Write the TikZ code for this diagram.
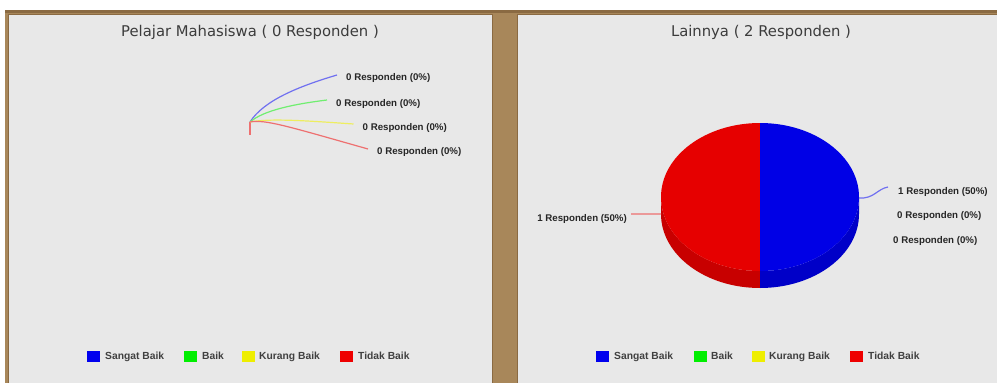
\documentclass[tikz,border=0pt]{standalone}
\usepackage{fontspec}
\setmainfont{DejaVu Sans}
\newfontfamily\labfont{Liberation Sans}
\definecolor{bgbrown}{HTML}{A8875A}
\definecolor{darkbrown}{HTML}{8A6A42}
\definecolor{panelgray}{HTML}{E8E8E8}
\definecolor{titlegray}{HTML}{3C3C3C}
\definecolor{labgray}{HTML}{262626}
\definecolor{leggray}{HTML}{404040}
\definecolor{cblue}{HTML}{0000EE}
\definecolor{cgreen}{HTML}{00EE00}
\definecolor{cyellow}{HTML}{EEEE00}
\definecolor{cred}{HTML}{EE0000}
\definecolor{pieredtop}{HTML}{E60000}
\definecolor{pieredside}{HTML}{C80000}
\definecolor{piebluetop}{HTML}{0000E6}
\definecolor{piebluside}{HTML}{0000C8}
\definecolor{lblue}{HTML}{7070F0}
\definecolor{lgreen}{HTML}{70EE70}
\definecolor{lyellow}{HTML}{EEEE60}
\definecolor{lred}{HTML}{EE7070}
\tikzset{
  panel/.style={fill=panelgray, draw=darkbrown, line width=1pt},
  charttitle/.style={font=\fontsize{14.8}{16}\selectfont, text=titlegray, inner sep=0pt},
  plabel/.style={font=\labfont\bfseries\fontsize{9.7}{11}\selectfont, text=labgray, inner sep=0pt, anchor=base west},
  legtext/.style={font=\labfont\bfseries\fontsize{10.3}{12}\selectfont, text=leggray, inner sep=0pt, anchor=base west},
  legbox/.style={minimum width=13pt, minimum height=11pt, inner sep=0pt},
  leader/.style={line width=1.2pt},
}
\begin{document}
\begin{tikzpicture}[x=1pt, y=-1pt]
\useasboundingbox (0,0) rectangle (997,383);
\fill[white] (0,0) rectangle (997,383);
% background
\fill[bgbrown] (5,10) rectangle (997,383);
\fill[darkbrown] (5,10) rectangle (997,13);
% panels
\path[panel] (8,14) rectangle (492,384);
\path[panel] (517,14) rectangle (998,384);

% ---------- left chart ----------
\node[charttitle] (t1) at (250,32) {Pelajar Mahasiswa ( 0 Responden )};
\coordinate (o1) at (250,122);
\coordinate (o1s) at (250,135);
\node[plabel] (l1a) at (346,80) {0 Responden (0\%)};
\node[plabel] (l1b) at (336,106) {0 Responden (0\%)};
\node[plabel] (l1c) at (362.5,130) {0 Responden (0\%)};
\node[plabel] (l1d) at (377,154) {0 Responden (0\%)};
\draw[leader, lred] (o1) -- (o1s);
\draw[leader, lblue] (o1) .. controls (264,100) and (300,86) .. ([xshift=-9pt, yshift=2.5pt]l1a.west);
\draw[leader, lgreen] (o1) .. controls (264,110) and (295,104) .. ([xshift=-9pt, yshift=3.5pt]l1b.west);
\draw[leader, lyellow] (o1) .. controls (270,118) and (310,121) .. ([xshift=-9pt, yshift=3.5pt]l1c.west);
\draw[leader, lred] (o1) .. controls (265,119) and (290,127) .. ([xshift=-9pt, yshift=2.5pt]l1d.west);

% legend left
\node[legbox, fill=cblue] (k1a) at (93,356) {};
\node[legtext] (k1at) at (105,359.7) {Sangat Baik};
\node[legbox, fill=cgreen] (k1b) at (190,356) {};
\node[legtext] (k1bt) at (202,359.7) {Baik};
\node[legbox, fill=cyellow] (k1c) at (248,356) {};
\node[legtext] (k1ct) at (259,359.7) {Kurang Baik};
\node[legbox, fill=cred] (k1d) at (346,356) {};
\node[legtext] (k1dt) at (358,359.7) {Tidak Baik};

% ---------- right chart ----------
\node[charttitle] (t2) at (761,32) {Lainnya ( 2 Responden )};
% pie sides
\fill[pieredside] (661,197) -- (661,214) arc[start angle=180, end angle=90, x radius=99, y radius=74] -- (760,271) arc[start angle=90, end angle=180, x radius=99, y radius=74] -- cycle;
\fill[piebluside] (859,197) -- (859,214) arc[start angle=0, end angle=90, x radius=99, y radius=74] -- (760,271) arc[start angle=90, end angle=0, x radius=99, y radius=74] -- cycle;
% pie tops
\fill[pieredtop] (760,271) arc[start angle=90, end angle=270, x radius=99, y radius=74] -- cycle;
\fill[piebluetop] (760,123) arc[start angle=-90, end angle=90, x radius=99, y radius=74] -- cycle;
\coordinate (pr) at (859,198);
\coordinate (pl) at (661,214);
\node[plabel] (l2a) at (898,194) {1 Responden (50\%)};
\node[plabel] (l2b) at (897,218.5) {0 Responden (0\%)};
\node[plabel] (l2c) at (893,243.5) {0 Responden (0\%)};
\node[plabel, anchor=base east] (l2d) at (627,221) {1 Responden (50\%)};
\draw[leader, lblue] (pr) .. controls (874,199) and (877,189) .. ([xshift=-10pt, yshift=4.5pt]l2a.west);
\draw[leader, lred] (pl) -- ([xshift=4pt, yshift=4.5pt]l2d.east);

% legend right
\node[legbox, fill=cblue] (k2a) at (602.5,356) {};
\node[legtext] (k2at) at (614,359.7) {Sangat Baik};
\node[legbox, fill=cgreen] (k2b) at (700,356) {};
\node[legtext] (k2bt) at (711,359.7) {Baik};
\node[legbox, fill=cyellow] (k2c) at (758,356) {};
\node[legtext] (k2ct) at (769,359.7) {Kurang Baik};
\node[legbox, fill=cred] (k2d) at (856.5,356) {};
\node[legtext] (k2dt) at (868,359.7) {Tidak Baik};
\end{tikzpicture}
\end{document}
